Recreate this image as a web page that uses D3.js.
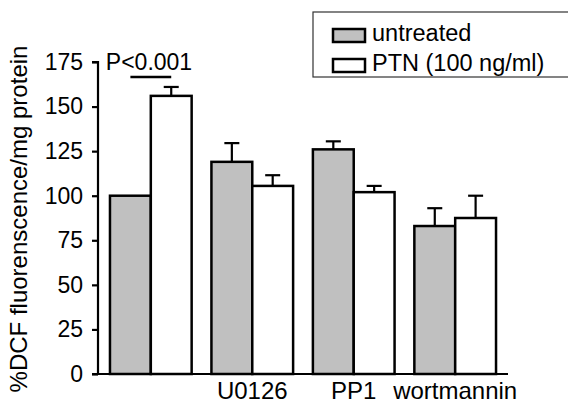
<!DOCTYPE html>
<html>
<head>
<meta charset="utf-8">
<script src="https://cdn.jsdelivr.net/npm/d3@7"></script>
<style>
body { margin: 0; background: #fff; }
text { font-family: "Liberation Sans", Arial, sans-serif; fill: #000; }
</style>
</head>
<body>
<script>
let categories = ['', 'U0126', 'PP1', 'wortmannin']
let series = ['untreated', 'PTN (100 ng/ml)']
let untreated = [100, 119, 126, 83]
let untreatedErr = [0, 10.5, 4.5, 10]
let ptn = [156, 105.5, 102, 87.5]
let ptnErr = [5, 6, 3.5, 12.5]
let yTicks = [0, 25, 50, 75, 100, 125, 150, 175]

let width = 568
let height = 403
let mLeft = 98, mRight = 508, mTop = 62, mBottom = 374

let svg = d3.select('body').append('svg')
    .attr('width', width)
    .attr('height', height)

let x = d3.scaleBand()
    .domain(categories)
    .range([mLeft, mRight])
    .paddingInner(0.195)
    .paddingOuter(0.118)

let x1 = d3.scaleBand()
    .domain(series)
    .range([0, x.bandwidth()])

let y = d3.scaleLinear()
    .domain([0, 175])
    .range([mBottom, mTop])

let colors = { 'untreated': '#c0c0c0', 'PTN (100 ng/ml)': '#ffffff' }

let rows = categories.map((c, i) => ({
    cat: c,
    vals: [
        { s: series[0], v: untreated[i], e: untreatedErr[i] },
        { s: series[1], v: ptn[i], e: ptnErr[i] }
    ]
}))

// error bars (upper only)
let g = svg.append('g')
rows.forEach(r => {
    r.vals.forEach(d => {
        if (d.e <= 0) return
        let cx = x(r.cat) + x1(d.s) + x1.bandwidth() / 2
        g.append('line')
            .attr('x1', cx).attr('x2', cx)
            .attr('y1', y(d.v)).attr('y2', y(d.v + d.e))
            .attr('stroke', '#000').attr('stroke-width', 2.2)
        g.append('line')
            .attr('x1', cx - 7.5).attr('x2', cx + 7.5)
            .attr('y1', y(d.v + d.e)).attr('y2', y(d.v + d.e))
            .attr('stroke', '#000').attr('stroke-width', 2.2)
    })
})

// bars
rows.forEach(r => {
    g.selectAll(null)
        .data(r.vals)
        .enter()
        .append('rect')
        .attr('x', d => x(r.cat) + x1(d.s))
        .attr('y', d => y(d.v))
        .attr('width', x1.bandwidth())
        .attr('height', d => y(0) - y(d.v))
        .attr('fill', d => colors[d.s])
        .attr('stroke', '#000')
        .attr('stroke-width', 2.5)
})

// y axis
let yAxis = d3.axisLeft(y).tickValues(yTicks).tickSize(6).tickPadding(9)
let ya = svg.append('g')
    .attr('transform', 'translate(' + mLeft + ',0)')
    .call(yAxis)
ya.select('.domain').attr('stroke-width', 2.2).attr('d', 'M-6,' + mTop + 'H0V' + mBottom)
ya.selectAll('.tick line').attr('stroke-width', 2.2)
ya.selectAll('.tick text').style('font-size', '23px')

// x axis line
svg.append('line')
    .attr('x1', 92).attr('x2', mRight)
    .attr('y1', mBottom).attr('y2', mBottom)
    .attr('stroke', '#000').attr('stroke-width', 2.2)

categories.forEach(c => {
    svg.append('text')
        .attr('x', x(c) + x.bandwidth() / 2)
        .attr('y', 399)
        .attr('text-anchor', 'middle')
        .style('font-size', '24px')
        .text(c)
})

// y label
svg.append('text')
    .attr('transform', 'translate(27,219) rotate(-90)')
    .attr('text-anchor', 'middle')
    .style('font-size', '24px')
    .text('%DCF fluorenscence/mg protein')

// significance
let c0 = x(categories[0])
let a = c0 + x1(series[0]) + x1.bandwidth() / 2
let b = c0 + x1(series[1]) + x1.bandwidth() / 2
svg.append('line')
    .attr('x1', a).attr('x2', b)
    .attr('y1', 77).attr('y2', 77)
    .attr('stroke', '#000').attr('stroke-width', 2.5)
svg.append('text')
    .attr('x', 149)
    .attr('y', 70)
    .attr('text-anchor', 'middle')
    .style('font-size', '23px')
    .text('P<0.001')

// legend
let lg = svg.append('g')
lg.append('rect')
    .attr('x', 313).attr('y', 12)
    .attr('width', 256).attr('height', 65)
    .attr('fill', '#fff').attr('stroke', '#333').attr('stroke-width', 1.2)
series.forEach((s, i) => {
    lg.append('rect')
        .attr('x', 333).attr('y', 29 + i * 30)
        .attr('width', 32).attr('height', 13)
        .attr('fill', colors[s]).attr('stroke', '#000').attr('stroke-width', 2.5)
    lg.append('text')
        .attr('x', 372).attr('y', 41 + i * 30)
        .style('font-size', '23.5px')
        .text(s)
})
</script>
</body>
</html>
